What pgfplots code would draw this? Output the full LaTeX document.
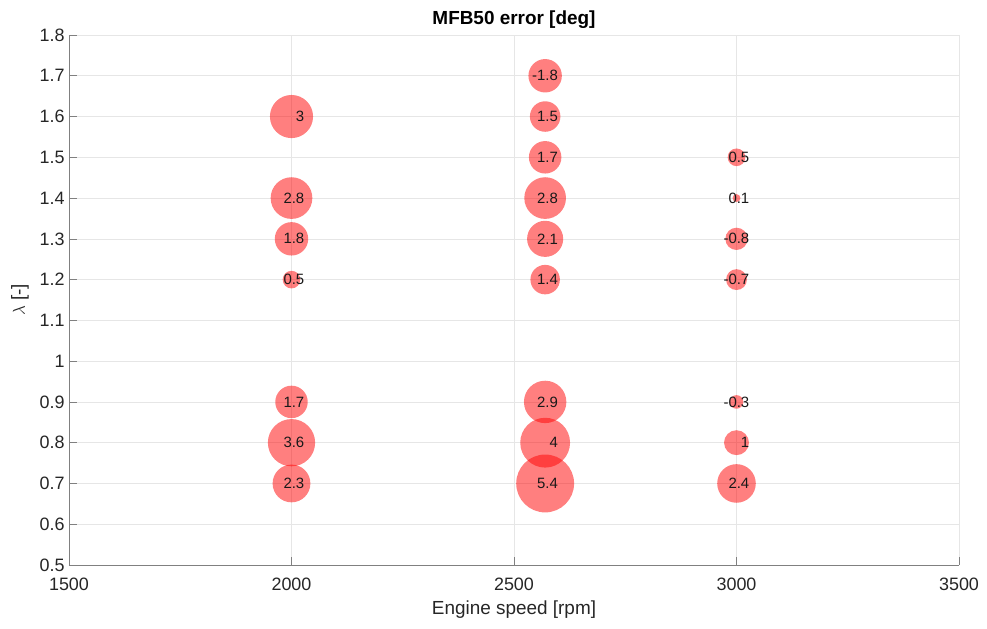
\documentclass[border=0pt]{standalone}
\usepackage{fontspec}
\setmainfont{Liberation Sans}
\usepackage{pgfplots}
\usepackage{pgfplotstable}
\usetikzlibrary{calc}
\pgfplotsset{compat=1.18}
\definecolor{tickc}{RGB}{38,38,38}
\definecolor{axc}{RGB}{128,128,128}
\definecolor{gridc}{RGB}{230,230,230}
\pgfplotstableread{
x y v
2000 0.7 2.3
2000 0.8 3.6
2000 0.9 1.7
2000 1.2 0.5
2000 1.3 1.8
2000 1.4 2.8
2000 1.6 3
2570 0.7 5.4
2570 0.8 4
2570 0.9 2.9
2570 1.2 1.4
2570 1.3 2.1
2570 1.4 2.8
2570 1.5 1.7
2570 1.6 1.5
2570 1.7 -1.8
3000 0.7 2.4
3000 0.8 1
3000 0.9 -0.3
3000 1.2 -0.7
3000 1.3 -0.8
3000 1.4 0.1
3000 1.5 0.5
}\bubbles
\begin{document}
\begin{tikzpicture}
\begin{axis}[
  scale only axis,
  width=890bp, height=530bp,
  xmin=1500, xmax=3500, ymin=0.5, ymax=1.8,
  xtick={1500,2000,2500,3000,3500},
  ytick={0.5,0.6,0.7,0.8,0.9,1,1.1,1.2,1.3,1.4,1.5,1.6,1.7,1.8},
  scaled ticks=false,
  /pgf/number format/1000 sep={},
  /pgf/number format/assume math mode=true,
  axis x line*=bottom, axis y line*=left,
  axis line style={-, draw=axc, line width=0.6bp},
  every tick/.style={draw=axc, line width=0.6bp},
  tick align=inside, major tick length=8bp,
  grid=major,
  major grid style={draw=gridc, line width=0.6bp},
  tick label style={font=\fontsize{18}{21}\selectfont, text=tickc},
  xticklabel style={yshift=-9bp},
  yticklabel style={xshift=-1bp},
  xlabel={Engine speed [rpm]},
  ylabel={$\lambda$ [-]},
  label style={font=\fontsize{19}{22}\selectfont, text=tickc},
  xlabel style={yshift=-4bp},
  ylabel style={yshift=4bp},
  title={\textbf{MFB50 error [deg]}},
  title style={font=\fontsize{19}{22}\selectfont, yshift=-3bp},
  clip=false,
]
\addplot[
  scatter, only marks, mark=*,
  point meta=\thisrow{v},
  mark options={fill=red, fill opacity=0.5, draw opacity=0},
  visualization depends on={12.5*sqrt(abs(\thisrow{v})) \as \rad},
  scatter/@pre marker code/.code={\pgfsetplotmarksize{\rad pt}},
  scatter/@post marker code/.code={},
] table[x=x, y=y] {\bubbles};
\addplot[
  only marks, mark=none,
  point meta=explicit symbolic,
  nodes near coords,
  nodes near coords align=center,
  every node near coord/.append style={anchor=east, xshift=13bp, inner sep=0pt,
     font=\fontsize{15}{17}\selectfont, text=black!90},
] table[x=x, y=y, meta=v] {\bubbles};
\coordinate (bl) at (rel axis cs:0,0);
\coordinate (tr) at (rel axis cs:1,1);
\end{axis}
\pgfresetboundingbox
\path[use as bounding box] ($(bl)+(-69bp,-64bp)$) rectangle ($(tr)+(28bp,35bp)$);
\end{tikzpicture}
\end{document}
